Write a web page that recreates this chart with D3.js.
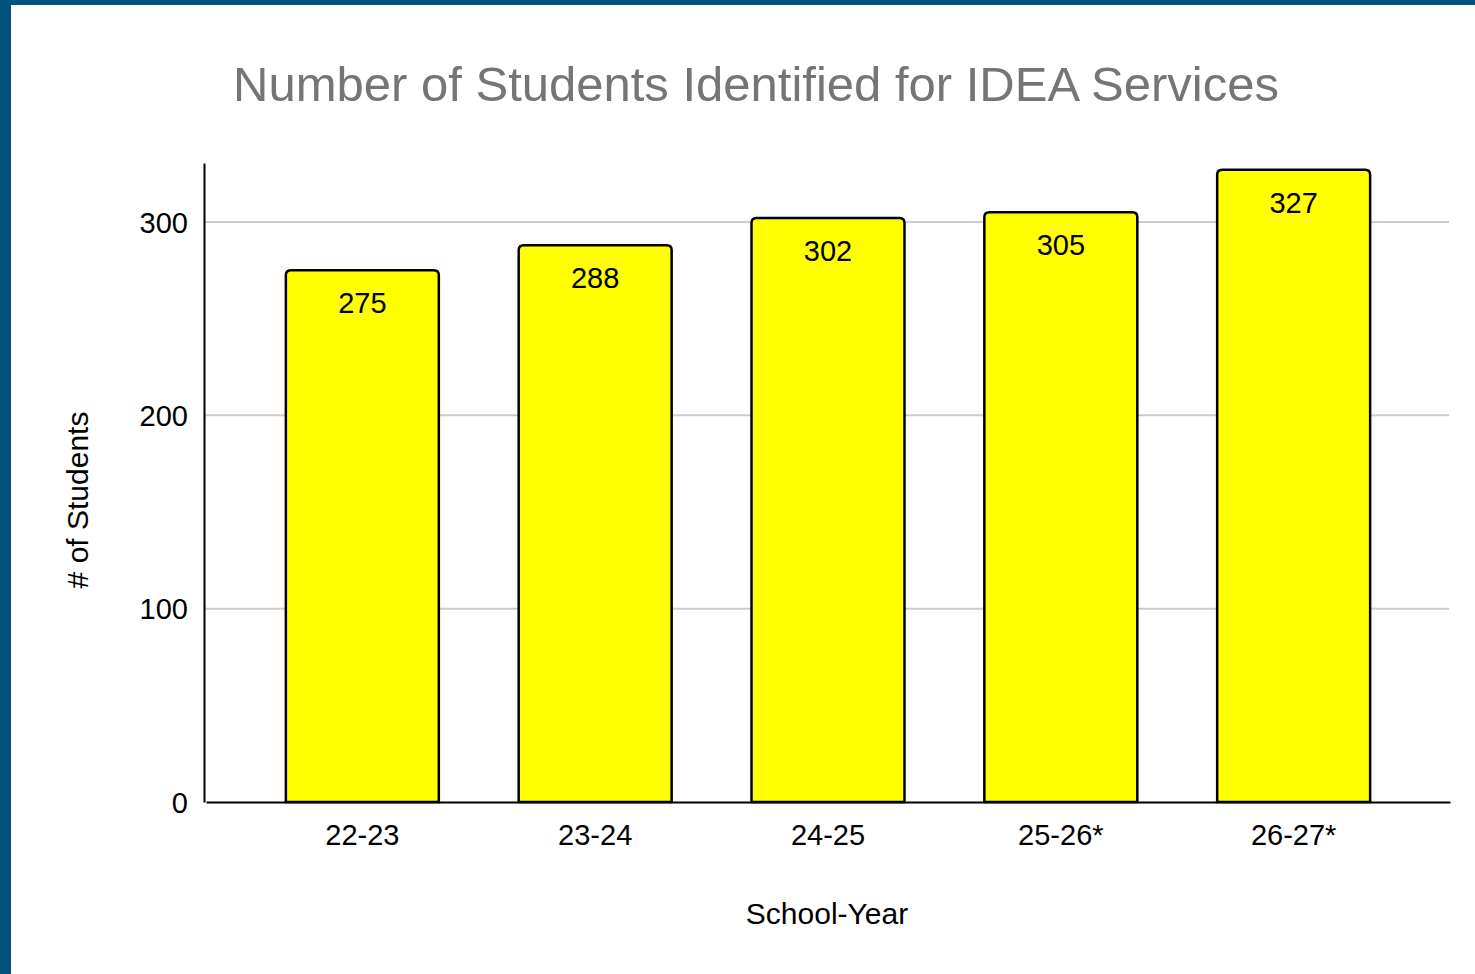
<!DOCTYPE html>
<html>
<head>
<meta charset="utf-8">
<script src="https://cdn.jsdelivr.net/npm/d3@7"></script>
<style>
  html, body { margin: 0; padding: 0; background: #01527f; }
  #wrapper { position: absolute; left: 11px; top: 5px; width: 1464px; height: 969px; background: #fff; }
  svg { display: block; font-family: "Liberation Sans", Arial, sans-serif; }
</style>
</head>
<body>
<div id="wrapper"></div>
<script>
const years = ["22-23", "23-24", "24-25", "25-26*", "26-27*"];
const students = [275, 288, 302, 305, 327];
const yTicks = [0, 100, 200, 300];

function buildPlot() {
    const data = years.map((y, i) => ({ year: y, count: students[i] }));
    const xAccessor = d => d.year;
    const yAccessor = d => d.count;

    const dimention = {
        width: 1464,
        height: 969,
        margin: { top: 158, left: 193, bottom: 172, right: 26 }
    };
    dimention.boundedWidth = dimention.width - dimention.margin.left - dimention.margin.right;
    dimention.boundedHeight = dimention.height - dimention.margin.top - dimention.margin.bottom;

    const svg = d3.select("#wrapper").append("svg")
        .attr("width", dimention.width)
        .attr("height", dimention.height);

    // title
    svg.append("text")
        .attr("x", 745)
        .attr("y", 96)
        .attr("text-anchor", "middle")
        .attr("fill", "#757575")
        .style("font-size", "49px")
        .text("Number of Students Identified for IDEA Services");

    const bounded = svg.append("g")
        .attr("transform", `translate(${dimention.margin.left},${dimention.margin.top})`);

    const yScaler = d3.scaleLinear()
        .domain([0, 330.5])
        .range([dimention.boundedHeight, 0]);

    // bars sit a touch right of the plain band layout
    const xScaler = d3.scaleBand()
        .domain(years)
        .range([2, dimention.boundedWidth + 1])
        .padding(0.343);

    // gridlines
    bounded.append("g")
        .selectAll("line")
        .data(yTicks.filter(t => t > 0))
        .join("line")
        .attr("x1", 0)
        .attr("x2", dimention.boundedWidth)
        .attr("y1", d => yScaler(d))
        .attr("y2", d => yScaler(d))
        .attr("stroke", "#cccccc")
        .attr("stroke-width", 2);

    // y axis
    const yAxis = bounded.append("g")
        .call(d3.axisLeft(yScaler).tickValues(yTicks).tickSize(0).tickPadding(16));
    yAxis.select(".domain").attr("stroke", "#000").attr("stroke-width", 2);
    yAxis.selectAll("text").style("font-size", "29px").attr("fill", "#000").attr("dy", "0.35em");

    // bars with rounded top corners
    const r = 5;
    const barPath = d => {
        const x0 = xScaler(xAccessor(d));
        const x1 = x0 + xScaler.bandwidth();
        const y0 = yScaler(0);
        const y1 = yScaler(yAccessor(d));
        return `M${x0},${y0} L${x0},${y1 + r} Q${x0},${y1} ${x0 + r},${y1} L${x1 - r},${y1} Q${x1},${y1} ${x1},${y1 + r} L${x1},${y0} Z`;
    };
    bounded.append("g")
        .selectAll("path")
        .data(data)
        .join("path")
        .attr("d", barPath)
        .attr("fill", "#ffff00")
        .attr("stroke", "#000")
        .attr("stroke-width", 2.5);

    // value labels
    bounded.append("g")
        .selectAll("text")
        .data(data)
        .join("text")
        .attr("x", d => xScaler(xAccessor(d)) + xScaler.bandwidth() / 2)
        .attr("y", d => yScaler(yAccessor(d)) + 43)
        .attr("text-anchor", "middle")
        .style("font-size", "29px")
        .text(d => yAccessor(d));

    // x axis
    const xAxis = bounded.append("g")
        .attr("transform", `translate(0,${dimention.boundedHeight})`)
        .call(d3.axisBottom(xScaler).tickSize(0).tickPadding(22).tickSizeOuter(0));
    xAxis.select(".domain").attr("stroke", "#000").attr("stroke-width", 2);
    xAxis.selectAll("text").style("font-size", "29px").attr("fill", "#000");

    // axis titles
    svg.append("text")
        .attr("x", 816)
        .attr("y", 919)
        .attr("text-anchor", "middle")
        .style("font-size", "30px")
        .text("School-Year");

    svg.append("text")
        .attr("transform", "translate(77,495) rotate(-90)")
        .attr("text-anchor", "middle")
        .style("font-size", "30px")
        .text("# of Students");
}

buildPlot();
</script>
</body>
</html>
